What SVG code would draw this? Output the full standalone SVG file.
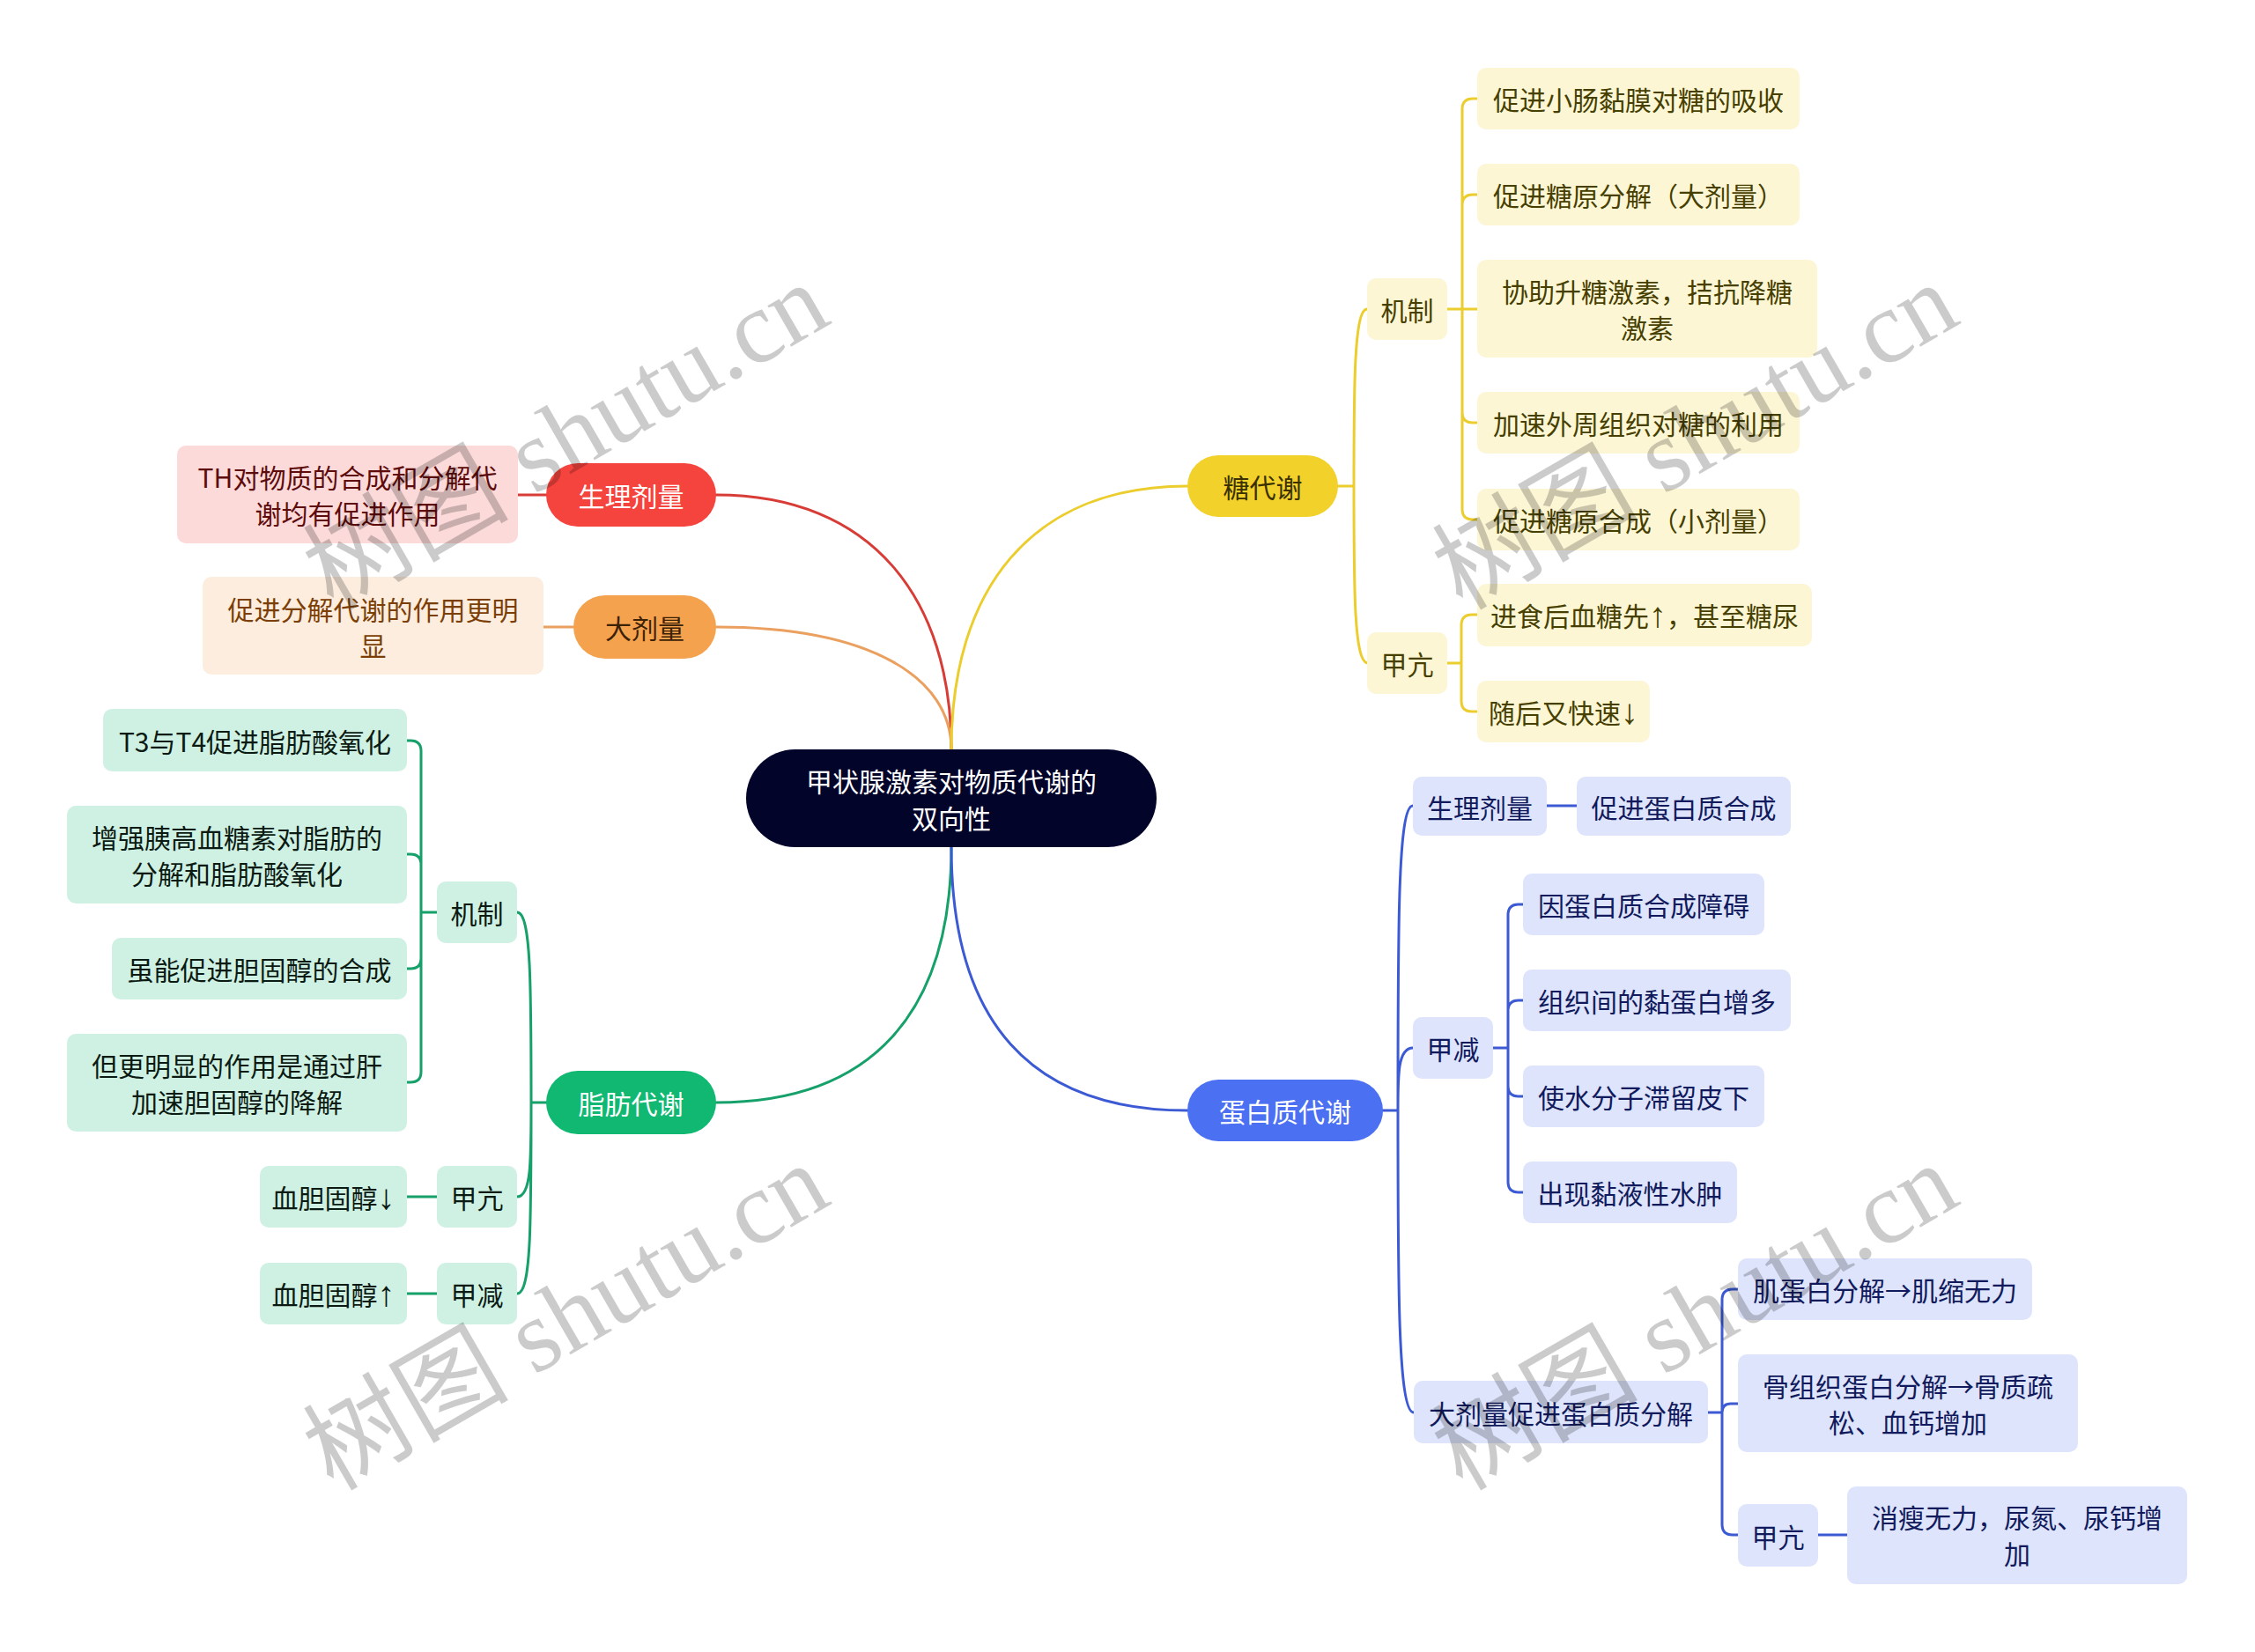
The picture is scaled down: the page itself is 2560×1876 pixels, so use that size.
<svg xmlns="http://www.w3.org/2000/svg" width="2560" height="1876" viewBox="0 0 2560 1876">
<style>
text{font-family:"Noto Sans CJK SC","Noto Sans",sans-serif;font-size:30px;text-anchor:middle;dominant-baseline:central}
.ar{font-family:"Liberation Sans","Noto Sans CJK SC",sans-serif;font-size:40px}
.c{fill:none;stroke-width:3;stroke-linecap:round}
.cr{stroke:#d83c36}.co{stroke:#eba060}.cy{stroke:#ebcd2e}.cg{stroke:#16a06a}.cb{stroke:#3c5ad4}
.wt{fill:#fff}
.pr{fill:#f5433d}.po{fill:#f5a24e}.py{fill:#f2d12b}.pg{fill:#10b872}.pb{fill:#4b70f2}
.br{fill:#fcdada}.bo{fill:#fdeddf}.by{fill:#fdf6d5}.bg{fill:#cff1e3}.bb{fill:#dde4fb}
.tr{fill:#5e0b0b}.to{fill:#7b3f05}.to2{fill:#3b2106}.ty{fill:#463f00}.ty2{fill:#3a3000}.tg{fill:#0b1a12}.tb{fill:#111a5c}
.wm{font-family:"Liberation Serif","Noto Sans CJK SC",serif;font-size:117px;fill:#000;opacity:0.2;text-anchor:start;dominant-baseline:alphabetic}
</style>
<rect width="2560" height="1876" fill="#fff"/>
<g id="connectors">
<path class="c cr" d="M1080 851 C1080 680 990 562 813 562"/>
<path class="c co" d="M1080 851 C1080 770 990 712 813 712"/>
<path class="c cy" d="M1080 851 C1080 670 1170 552 1348 552"/>
<path class="c cg" d="M1080 962 C1080 1150 990 1252 813 1252"/>
<path class="c cb" d="M1080 962 C1080 1160 1170 1261 1348 1261"/>
<path class="c cr" d="M620 562 H588"/>
<path class="c co" d="M651 712 H617"/>
<path class="c cy" d="M1519 552 H1537 M1537 552 C1537 440 1537 351 1552 351 M1537 552 C1537 670 1537 753 1553 753"/>
<path class="c cy" d="M1643 351 H1660 M1660 351 V124 Q1660 112 1672 112 H1677 M1660 351 V233 Q1660 221 1672 221 H1677 M1660 351 H1677 M1660 351 V468 Q1660 480 1672 480 H1677 M1660 351 V578 Q1660 590 1672 590 H1677"/>
<path class="c cy" d="M1642 753 H1659 M1659 753 V710 Q1659 698 1671 698 H1677 M1659 753 V796 Q1659 808 1671 808 H1677"/>
<path class="c cg" d="M620 1252 H603 M603 1252 C603 1120 603 1036 587 1036 M603 1252 C603 1320 603 1359 587 1359 M603 1252 C603 1390 603 1469 587 1469"/>
<path class="c cg" d="M496 1036 H478 M478 1036 V853 Q478 841 466 841 H462 M478 1036 V982 Q478 970 466 970 H462 M478 1036 V1088 Q478 1100 466 1100 H462 M478 1036 V1217 Q478 1229 466 1229 H462"/>
<path class="c cg" d="M462 1359 H496 M462 1469 H496"/>
<path class="c cb" d="M1570 1261 H1587 M1587 1261 C1587 1050 1587 915 1604 915 M1587 1261 C1587 1220 1587 1190 1604 1190 M1587 1261 C1587 1460 1587 1604 1605 1604"/>
<path class="c cb" d="M1756 915 H1790"/>
<path class="c cb" d="M1695 1190 H1712 M1712 1190 V1039 Q1712 1027 1724 1027 H1729 M1712 1190 V1148 Q1712 1136 1724 1136 H1729 M1712 1190 V1233 Q1712 1245 1724 1245 H1729 M1712 1190 V1342 Q1712 1354 1724 1354 H1729"/>
<path class="c cb" d="M1939 1604 H1955 M1955 1604 V1476 Q1955 1464 1967 1464 H1973 M1955 1604 Q1955 1594 1965 1594 H1973 M1955 1604 V1731 Q1955 1743 1967 1743 H1973"/>
<path class="c cb" d="M2064 1743 H2097"/>
</g>
<g id="root"><rect x="847" y="851" width="466" height="111" rx="55.5" fill="#03042a"/><text class="wt" x="1080" y="886">甲状腺激素对物质代谢的</text><text class="wt" x="1080" y="928">双向性</text></g>
<g id="n-sl"><rect class="pr" x="620" y="526" width="193" height="72" rx="36"/><text class="wt" x="716.5" y="562">生理剂量</text></g>
<g id="n-th"><rect class="br" x="201" y="506" width="387" height="111" rx="10"/><text class="tr" x="394.5" y="541">TH对物质的合成和分解代</text><text class="tr" x="394.5" y="582">谢均有促进作用</text></g>
<g id="n-dj"><rect class="po" x="651" y="676" width="162" height="72" rx="36"/><text class="to2" x="732" y="712">大剂量</text></g>
<g id="n-cj"><rect class="bo" x="230" y="655" width="387" height="111" rx="10"/><text class="to" x="423.5" y="691">促进分解代谢的作用更明</text><text class="to" x="423.5" y="732">显</text></g>
<g id="n-fat"><rect class="pg" x="620" y="1216" width="193" height="72" rx="36"/><text class="wt" x="716.5" y="1252">脂肪代谢</text></g>
<g id="n-fjz"><rect class="bg" x="496" y="1001" width="91" height="70" rx="10"/><text class="tg" x="541.5" y="1036">机制</text></g>
<g id="n-f1"><rect class="bg" x="117" y="805" width="345" height="71" rx="10"/><text class="tg" x="289.5" y="841">T3与T4促进脂肪酸氧化</text></g>
<g id="n-f2"><rect class="bg" x="76" y="915" width="386" height="111" rx="10"/><text class="tg" x="269" y="950">增强胰高血糖素对脂肪的</text><text class="tg" x="269" y="991">分解和脂肪酸氧化</text></g>
<g id="n-f3"><rect class="bg" x="127" y="1065" width="335" height="70" rx="10"/><text class="tg" x="294.5" y="1100">虽能促进胆固醇的合成</text></g>
<g id="n-f4"><rect class="bg" x="76" y="1174" width="386" height="111" rx="10"/><text class="tg" x="269" y="1209">但更明显的作用是通过肝</text><text class="tg" x="269" y="1250">加速胆固醇的降解</text></g>
<g id="n-fjk"><rect class="bg" x="496" y="1324" width="91" height="70" rx="10"/><text class="tg" x="541.5" y="1359">甲亢</text></g>
<g id="n-fjk1"><rect class="bg" x="295" y="1324" width="167" height="70" rx="10"/><text class="tg" x="378.5" y="1359">血胆固醇<tspan class="ar">↓</tspan></text></g>
<g id="n-fjj"><rect class="bg" x="496" y="1434" width="91" height="70" rx="10"/><text class="tg" x="541.5" y="1469">甲减</text></g>
<g id="n-fjj1"><rect class="bg" x="295" y="1434" width="167" height="70" rx="10"/><text class="tg" x="378.5" y="1469">血胆固醇<tspan class="ar">↑</tspan></text></g>
<g id="n-sugar"><rect class="py" x="1348" y="517" width="171" height="70" rx="35"/><text class="ty2" x="1433.5" y="552">糖代谢</text></g>
<g id="n-sjz"><rect class="by" x="1552" y="316" width="91" height="70" rx="10"/><text class="ty" x="1597.5" y="351">机制</text></g>
<g id="n-s1"><rect class="by" x="1677" y="77" width="366" height="70" rx="10"/><text class="ty" x="1860" y="112">促进小肠黏膜对糖的吸收</text></g>
<g id="n-s2"><rect class="by" x="1677" y="186" width="366" height="70" rx="10"/><text class="ty" x="1860" y="221">促进糖原分解（大剂量）</text></g>
<g id="n-s3"><rect class="by" x="1677" y="295" width="386" height="111" rx="10"/><text class="ty" x="1870" y="330">协助升糖激素，拮抗降糖</text><text class="ty" x="1870" y="371">激素</text></g>
<g id="n-s4"><rect class="by" x="1677" y="445" width="366" height="70" rx="10"/><text class="ty" x="1860" y="480">加速外周组织对糖的利用</text></g>
<g id="n-s5"><rect class="by" x="1677" y="555" width="366" height="70" rx="10"/><text class="ty" x="1860" y="590">促进糖原合成（小剂量）</text></g>
<g id="n-sjk"><rect class="by" x="1552" y="718" width="91" height="70" rx="10"/><text class="ty" x="1597.5" y="753">甲亢</text></g>
<g id="n-s6"><rect class="by" x="1677" y="663" width="380" height="71" rx="10"/><text class="ty" x="1867" y="698">进食后血糖先<tspan class="ar">↑</tspan>，甚至糖尿</text></g>
<g id="n-s7"><rect class="by" x="1677" y="773" width="196" height="70" rx="10"/><text class="ty" x="1775" y="808">随后又快速<tspan class="ar">↓</tspan></text></g>
<g id="n-protein"><rect class="pb" x="1348" y="1226" width="222" height="70" rx="35"/><text class="wt" x="1459" y="1261">蛋白质代谢</text></g>
<g id="n-bsl"><rect class="bb" x="1604" y="882" width="152" height="67" rx="10"/><text class="tb" x="1680" y="915.5">生理剂量</text></g>
<g id="n-bsl1"><rect class="bb" x="1790" y="882" width="243" height="67" rx="10"/><text class="tb" x="1911.5" y="915.5">促进蛋白质合成</text></g>
<g id="n-bjj"><rect class="bb" x="1604" y="1155" width="91" height="70" rx="10"/><text class="tb" x="1649.5" y="1190">甲减</text></g>
<g id="n-b1"><rect class="bb" x="1729" y="992" width="274" height="70" rx="10"/><text class="tb" x="1866" y="1027">因蛋白质合成障碍</text></g>
<g id="n-b2"><rect class="bb" x="1729" y="1101" width="304" height="70" rx="10"/><text class="tb" x="1881" y="1136">组织间的黏蛋白增多</text></g>
<g id="n-b3"><rect class="bb" x="1729" y="1210" width="274" height="70" rx="10"/><text class="tb" x="1866" y="1245">使水分子滞留皮下</text></g>
<g id="n-b4"><rect class="bb" x="1729" y="1319" width="243" height="70" rx="10"/><text class="tb" x="1850.5" y="1354">出现黏液性水肿</text></g>
<g id="n-bdj"><rect class="bb" x="1605" y="1568" width="334" height="71" rx="10"/><text class="tb" x="1772" y="1603.5">大剂量促进蛋白质分解</text></g>
<g id="n-b5"><rect class="bb" x="1973" y="1429" width="334" height="70" rx="10"/><text class="tb" x="2140" y="1464">肌蛋白分解→肌缩无力</text></g>
<g id="n-b6"><rect class="bb" x="1973" y="1538" width="386" height="111" rx="10"/><text class="tb" x="2166" y="1573">骨组织蛋白分解→骨质疏</text><text class="tb" x="2166" y="1614">松、血钙增加</text></g>
<g id="n-bjk"><rect class="bb" x="1973" y="1708" width="91" height="71" rx="10"/><text class="tb" x="2018.5" y="1743.5">甲亢</text></g>
<g id="n-b8"><rect class="bb" x="2097" y="1688" width="386" height="111" rx="10"/><text class="tb" x="2290" y="1722">消瘦无力，尿氮、尿钙增</text><text class="tb" x="2290" y="1763">加</text></g>
<g id="watermark">
<text class="wm" transform="translate(378 694) rotate(-30)">树图 shutu.cn</text>
<text class="wm" transform="translate(1660 694) rotate(-30)">树图 shutu.cn</text>
<text class="wm" transform="translate(378 1694) rotate(-30)">树图 shutu.cn</text>
<text class="wm" transform="translate(1660 1694) rotate(-30)">树图 shutu.cn</text>
</g>
</svg>
